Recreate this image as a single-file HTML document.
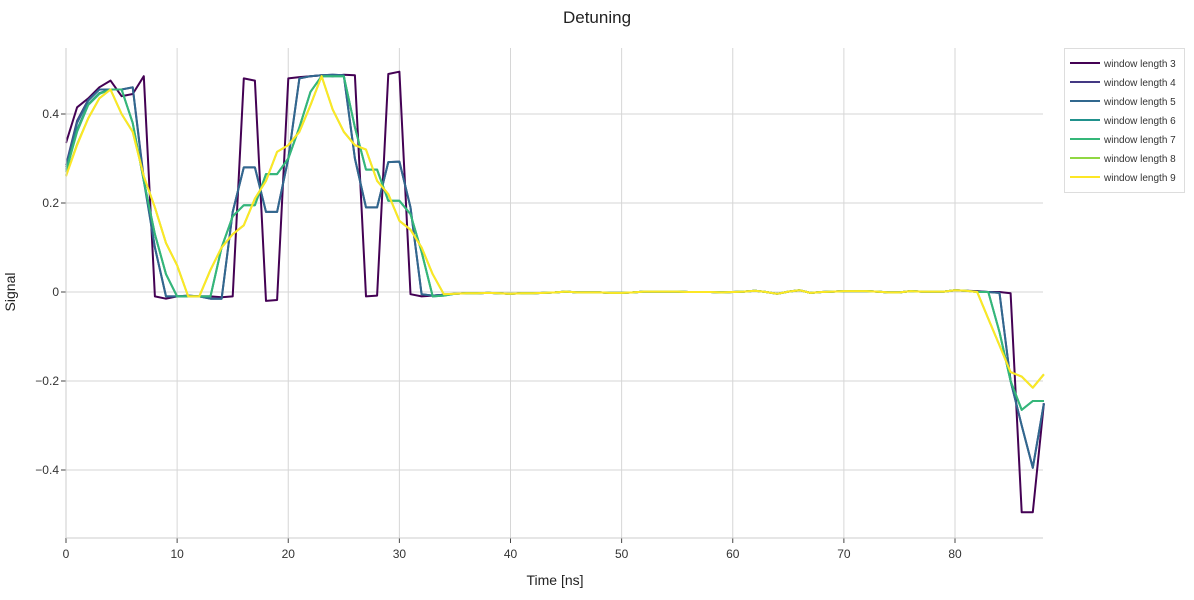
<!DOCTYPE html>
<html><head><meta charset="utf-8"><style>
body{margin:0;background:#fff;font-family:"Liberation Sans",sans-serif;}
svg text{font-family:"Liberation Sans",sans-serif;}
</style></head><body>
<svg id="chart" width="1194" height="595">
<text x="597" y="23" text-anchor="middle" font-size="17" fill="#222">Detuning</text>
<g id="grid"></g>
<g id="series"></g>
<g id="axes"></g>
<text x="555" y="585" text-anchor="middle" font-size="14" fill="#222">Time [ns]</text>
<text transform="translate(15,292) rotate(-90)" text-anchor="middle" font-size="14" fill="#222">Signal</text>
<g id="legend"></g>
</svg>
<script>
const xTicks=[0,10,20,30,40,50,60,70,80];
const yTicks=[-0.4,-0.2,0,0.2,0.4];
const yTickLabels=["\u22120.4","\u22120.2","0","0.2","0.4"];
const seriesNames=["window length 3","window length 4","window length 5","window length 6","window length 7","window length 8","window length 9"];
const colors=["#440154","#443983","#31688e","#21918c","#35b779","#90d743","#fde725"];
const mid=[-0.004,-0.003,-0.003,-0.002,-0.003,-0.004,-0.003,-0.003,-0.002,-0.001,0.001,-0.001,-0.001,-0.001,-0.002,-0.002,-0.001,0.001,0.001,0.001,0.001,0.000,0.000,0.000,-0.001,0.000,0.001,0.003,0.000,-0.004,0.001,0.004,-0.002,0.000,0.001,0.002,0.002,0.002,0.001,-0.001,-0.001,0.002,0.001,0.001,0.001,0.004,0.003];
const w3=[0.335,0.415,0.435,0.46,0.475,0.44,0.445,0.485,-0.01,-0.015,-0.01,-0.01,-0.01,-0.01,-0.012,-0.01,0.48,0.475,-0.02,-0.018,0.48,0.483,0.485,0.487,0.485,0.488,0.487,-0.01,-0.008,0.49,0.495,-0.005,-0.01,-0.008,-0.006].concat(mid,[0.002,0.0,0.0,-0.003,-0.495,-0.495,-0.25]);
const w4=[0.285,0.385,0.432,0.455,0.455,0.455,0.46,0.255,0.1,-0.01,-0.01,-0.008,-0.01,-0.015,-0.015,0.18,0.28,0.28,0.18,0.18,0.3,0.48,0.485,0.487,0.488,0.487,0.3,0.19,0.19,0.292,0.293,0.19,-0.005,-0.008,-0.006].concat(mid,[0.001,0.0,-0.002,-0.2,-0.3,-0.395,-0.25]);
const w5=[0.28,0.38,0.43,0.455,0.455,0.455,0.46,0.25,0.1,-0.01,-0.01,-0.008,-0.01,-0.015,-0.015,0.18,0.28,0.28,0.18,0.18,0.3,0.48,0.485,0.487,0.488,0.487,0.3,0.19,0.19,0.292,0.293,0.19,-0.005,-0.008,-0.006].concat(mid,[0.001,0.0,-0.002,-0.2,-0.3,-0.395,-0.25]);
const w6=[0.275,0.365,0.422,0.447,0.455,0.455,0.38,0.25,0.13,0.04,-0.01,-0.01,-0.01,-0.01,0.1,0.17,0.195,0.195,0.265,0.265,0.3,0.37,0.45,0.485,0.485,0.485,0.37,0.275,0.275,0.205,0.205,0.175,0.09,-0.01,-0.008].concat(mid,[0.0,0.0,-0.09,-0.2,-0.265,-0.245,-0.245]);
const w7=[0.27,0.36,0.42,0.445,0.455,0.455,0.38,0.25,0.13,0.04,-0.01,-0.01,-0.01,-0.01,0.1,0.17,0.195,0.195,0.265,0.265,0.3,0.37,0.45,0.485,0.485,0.485,0.37,0.275,0.275,0.205,0.205,0.175,0.09,-0.01,-0.008].concat(mid,[0.0,0.0,-0.09,-0.2,-0.265,-0.245,-0.245]);
const w8=[0.262,0.332,0.39,0.435,0.455,0.4,0.36,0.26,0.19,0.11,0.06,-0.01,-0.01,0.05,0.1,0.13,0.15,0.21,0.25,0.315,0.33,0.36,0.42,0.485,0.41,0.36,0.33,0.32,0.25,0.22,0.16,0.14,0.1,0.04,-0.005].concat(mid,[0.0,-0.06,-0.12,-0.18,-0.19,-0.215,-0.185]);
const w9=[0.26,0.33,0.39,0.435,0.455,0.4,0.36,0.26,0.19,0.11,0.06,-0.01,-0.01,0.05,0.1,0.13,0.15,0.21,0.25,0.315,0.33,0.36,0.42,0.485,0.41,0.36,0.33,0.32,0.25,0.22,0.16,0.14,0.1,0.04,-0.005].concat(mid,[0.0,-0.06,-0.12,-0.18,-0.19,-0.215,-0.185]);
const allSeries=[w3,w4,w5,w6,w7,w8,w9];

const NS="http://www.w3.org/2000/svg";
const X0=66,X1=1043,Y0=48,Y1=538;
const xs=t=>X0+t*(955-66)/80;
const ys=v=>292-v*445;
function mk(tag,attrs,parent){const e=document.createElementNS(NS,tag);for(const k in attrs)e.setAttribute(k,attrs[k]);parent.appendChild(e);return e;}
const grid=document.getElementById('grid'),axes=document.getElementById('axes'),sg=document.getElementById('series'),lg=document.getElementById('legend');
xTicks.forEach(t=>{
  const l=mk('line',{x1:xs(t),x2:xs(t),y1:Y0,y2:Y1,stroke:'#d6d6d6','stroke-width':1},grid);
  
  
  const tk=mk('line',{x1:xs(t),x2:xs(t),y1:Y1,y2:Y1+5,stroke:'#444'},axes);
  
  
  const tx=mk('text',{x:xs(t),y:Y1+20,'text-anchor':'middle','font-size':12,fill:'#333'},axes);
  tx.textContent=t;
  
  
});
yTicks.forEach((v,i)=>{
  const l=mk('line',{x1:X0,x2:X1,y1:ys(v),y2:ys(v),stroke:'#d6d6d6','stroke-width':1},grid);
  
  
  const tk=mk('line',{x1:X0-5,x2:X0,y1:ys(v),y2:ys(v),stroke:'#444'},axes);
  
  
  const tx=mk('text',{x:X0-7,y:ys(v)+4,'text-anchor':'end','font-size':12,fill:'#333'},axes);
  tx.textContent=yTickLabels[i];
  
  
});
const xa=mk('line',{x1:X0,x2:X1,y1:Y1,y2:Y1,stroke:'#ccc'},axes);


const ya=mk('line',{x1:X0,x2:X0,y1:Y0,y2:Y1,stroke:'#ccc'},axes);


allSeries.forEach((arr,i)=>{
  const d=arr.map((v,t)=>(t?'L':'M')+xs(t).toFixed(1)+','+ys(v).toFixed(1)).join('');
  const p=mk('path',{d:d,fill:'none',stroke:colors[i],'stroke-width':2,'stroke-linejoin':'round'},sg);
  
  
});
const box=mk('rect',{x:1064.5,y:48.5,width:120,height:144,fill:'#fff',stroke:'#ddd'},lg);


seriesNames.forEach((n,i)=>{
  const y=63+i*19;
  const g=mk('g',{},lg);
  
  
  mk('line',{x1:1070,x2:1100,y1:y,y2:y,stroke:colors[i],'stroke-width':2},g);
  const t=mk('text',{x:1104,y:y+4,'font-size':10,fill:'#333'},g);
  t.textContent=n;
});
</script>
</body></html>
